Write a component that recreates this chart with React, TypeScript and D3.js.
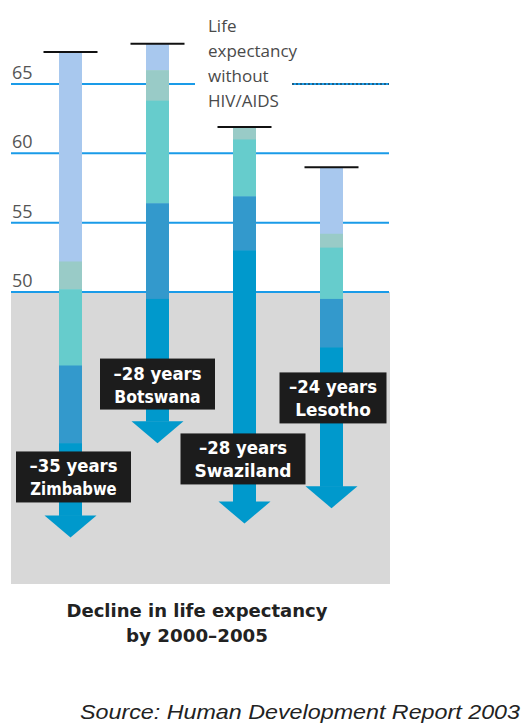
import React from "react";
import * as d3 from "d3";

// ---- Data ----
const countries = ["Zimbabwe", "Botswana", "Swaziland", "Lesotho"];
const declineYears = [35, 28, 28, 24];
// life expectancy without HIV/AIDS (top of each column)
const startValues = [67.3, 67.9, 61.9, 59.0];
// lower bound of each coloured band, top to bottom
const band1Low = [52.2, 66.0, 61.9, 54.2]; // light blue
const band2Low = [50.2, 63.8, 61.0, 53.2]; // grey-teal
const band3Low = [44.7, 56.4, 56.9, 49.5]; // teal
const band4Low = [39.1, 49.5, 53.0, 46.0]; // medium blue
// life expectancy 2000-2005 (arrow tip)
const endValues = [32.3, 39.1, 33.3, 34.4];
const yTicks = [50, 55, 60, 65];
const legendLines = ["Life", "expectancy", "without", "HIV/AIDS"];
const titleLines = ["Decline in life expectancy", "by 2000–2005"];
const sourceText = "Source: Human Development Report 2003";

// ---- Layout / style ----
const W = 531;
const H = 723;
const bandColors = ["#a8c8ee", "#99cbc7", "#66cccc", "#3399cc", "#0099cc"];
const labelBoxTopValue = [38.5, 45.2, 39.8, 44.2];
const labelBoxWidth = [115, 115, 125, 107];
const labelBoxShift = [3, 0, -1.5, 1.5];

export default function App() {
  const y = d3.scaleLinear().domain([50, 65]).range([292, 84]);
  const x = d3.scaleBand<string>().domain(countries).range([27, 375]).padding(0);
  const barW = 23;
  const headW = 52;
  const headH = 22;
  const left = 11;
  const right = 389;

  const sansLight = "'Open Sans', 'DejaVu Sans', sans-serif";
  const condBold = "'DejaVu Sans Condensed', 'Liberation Sans Narrow', 'Roboto', sans-serif";

  return (
    <svg
      width={W}
      height={H}
      style={{ position: "absolute", left: 0, top: 0, background: "#fff" }}
    >
      {/* grey area below 50 */}
      <rect x={left} y={y(50)} width={right - left + 1} height={584 - y(50)} fill="#d8d8d8" />

      {/* gridlines */}
      {yTicks.map((t) => (
        <g key={t}>
          {t === 65 ? (
            <>
              <line x1={left} x2={195} y1={y(t)} y2={y(t)} stroke="#1a9be8" strokeWidth={2} />
              <line x1={292} x2={right} y1={y(t)} y2={y(t)} stroke="#1a9be8" strokeWidth={2} />
              <line
                x1={292}
                x2={right}
                y1={y(t)}
                y2={y(t)}
                stroke="#222"
                strokeWidth={1}
                strokeDasharray="2,2"
              />
            </>
          ) : (
            <line x1={left} x2={right} y1={y(t)} y2={y(t)} stroke="#1a9be8" strokeWidth={2} />
          )}
          <text
            x={12}
            y={y(t) - 5}
            fontFamily={sansLight}
            fontSize={18}
            fill="#555"
          >
            {t}
          </text>
        </g>
      ))}

      {/* legend text */}
      {legendLines.map((s, i) => (
        <text
          key={s}
          x={208}
          y={32 + i * 25}
          fontFamily={sansLight}
          fontSize={17}
          fill="#4a4a4a"
        >
          {s}
        </text>
      ))}

      {/* columns */}
      {countries.map((c, i) => {
        const cx = (x(c) as number) + x.bandwidth() / 2;
        const bounds = [startValues[i], band1Low[i], band2Low[i], band3Low[i], band4Low[i]];
        const tipY = y(endValues[i]);
        const headTop = tipY - headH;
        const segs = bounds.map((b, k) => {
          const top = y(b);
          const bottom = k < 4 ? y(bounds[k + 1]) : headTop;
          return { top, bottom, color: bandColors[k] };
        });
        const boxTop = y(labelBoxTopValue[i]);
        const bw = labelBoxWidth[i];
        const bcx = cx + labelBoxShift[i];
        return (
          <g key={c}>
            {segs.map((s, k) =>
              s.bottom > s.top ? (
                <rect
                  key={k}
                  x={cx - barW / 2}
                  y={s.top}
                  width={barW}
                  height={s.bottom - s.top + 0.5}
                  fill={s.color}
                />
              ) : null
            )}
            <path
              d={`M${cx - headW / 2},${headTop}L${cx + headW / 2},${headTop}L${cx},${tipY}Z`}
              fill={bandColors[4]}
            />
            <line
              x1={cx - 27}
              x2={cx + 27}
              y1={y(startValues[i])}
              y2={y(startValues[i])}
              stroke="#111"
              strokeWidth={2}
            />
            <rect x={bcx - bw / 2} y={boxTop} width={bw} height={51} fill="#1c1c1c" />
            <text
              x={bcx}
              y={boxTop + 21}
              textAnchor="middle"
              fontFamily={condBold}
              fontWeight="bold"
              fontSize={17}
              fill="#fff"
              textLength={88}
              lengthAdjust="spacingAndGlyphs"
            >
              {`–${declineYears[i]} years`}
            </text>
            <text
              x={bcx}
              y={boxTop + 44}
              textAnchor="middle"
              fontFamily={condBold}
              fontWeight="bold"
              fontSize={17}
              fill="#fff"
              textLength={c.length * 10.8}
              lengthAdjust="spacingAndGlyphs"
            >
              {c}
            </text>
          </g>
        );
      })}

      {/* title */}
      {titleLines.map((s, i) => (
        <text
          key={s}
          x={197}
          y={617 + i * 25}
          textAnchor="middle"
          fontFamily={condBold}
          fontWeight="bold"
          fontSize={17}
          fill="#222"
          textLength={i === 0 ? 261 : 142}
          lengthAdjust="spacingAndGlyphs"
        >
          {s}
        </text>
      ))}

      {/* source */}
      <text
        x={80}
        y={719}
        fontFamily="'Liberation Sans', Arial, sans-serif"
        fontStyle="italic"
        fontSize={21}
        fill="#222"
        textLength={440}
        lengthAdjust="spacingAndGlyphs"
      >
        {sourceText}
      </text>
    </svg>
  );
}
